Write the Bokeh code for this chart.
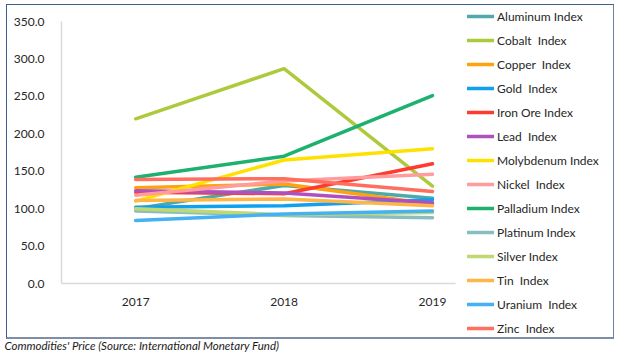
from bokeh.plotting import figure
from bokeh.models import (Range1d, FixedTicker, PrintfTickFormatter, Legend, LegendItem,
                          Title, InlineStyleSheet)
from bokeh.embed import file_html
from bokeh.resources import INLINE

years = [2017, 2018, 2019]
y_ticks = [0, 50, 100, 150, 200, 250, 300, 350]

names = ["Aluminum Index", "Cobalt  Index", "Copper  Index", "Gold  Index",
         "Iron Ore Index", "Lead  Index", "Molybdenum Index", "Nickel  Index",
         "Palladium Index", "Platinum Index", "Silver Index", "Tin  Index",
         "Uranium  Index", "Zinc  Index"]

aluminum = [100, 131, 114]
cobalt = [220, 287, 130]
copper = [128, 133, 106]
gold = [102, 104, 112]
iron_ore = [122, 120, 160]
lead = [124, 121, 108]
molybdenum = [110, 165, 180]
nickel = [118, 137, 146]
palladium = [142, 170, 251]
platinum = [97, 91, 88]
silver = [100, 92, 95]
tin = [111, 113, 104]
uranium = [84, 93, 97]
zinc = [139, 140, 123]

series = [aluminum, cobalt, copper, gold, iron_ore, lead, molybdenum, nickel,
          palladium, platinum, silver, tin, uranium, zinc]
colors = ["#4FA8AA", "#ADC93C", "#FFA20F", "#0FA0EE", "#FF3B2F", "#B050BE",
          "#FFE100", "#FF9C9C", "#1DB16E", "#88BEC0", "#BFD870", "#FFB547",
          "#45B1F4", "#FF6E5E"]

caption_text = "Commodities' Price (Source: International Monetary Fund)"

FONT = "Lato"

p = figure(frame_width=394, frame_height=262, output_backend="svg", toolbar_location=None,
           x_range=Range1d(2016.5, 2019.155), y_range=Range1d(0, 350),
           min_border_left=61, min_border_right=169, min_border_top=21,
           min_border_bottom=75)
p.stylesheets = [InlineStyleSheet(css="""
:host { position: relative; }
:host::after { content: ""; position: absolute; left: 6px; top: 4px;
  width: 608px; height: 335px; box-sizing: border-box;
  border: 1px solid #3F5E8E; border-bottom: 2px solid #7F8DA6;
  border-right: 1.5px solid #6F7F9C; pointer-events: none; }
""")]
p.outline_line_color = None
p.background_fill_color = "white"
p.border_fill_color = "white"
p.xgrid.visible = False
p.ygrid.visible = False

p.xaxis.ticker = FixedTicker(ticks=years)
p.yaxis.ticker = FixedTicker(ticks=y_ticks)
p.yaxis.formatter = PrintfTickFormatter(format="%.1f")
for ax in (p.xaxis, p.yaxis):
    ax.axis_line_color = "#D9D9D9"
    ax.axis_line_width = 1.5
    ax.major_tick_line_color = None
    ax.minor_tick_line_color = None
    ax.major_label_text_font = FONT
    ax.major_label_text_font_size = "12px"
    ax.major_label_text_color = "#262626"
p.yaxis.major_label_standoff = 11
p.xaxis.major_label_standoff = 8

items = []
for name, vals, col in zip(names, series, colors):
    r = p.line(years, vals, line_color=col, line_width=3.5, line_cap="round",
               line_join="round")
    items.append(LegendItem(label=name, renderers=[r]))

legend = Legend(items=items, location=(12, -55), orientation="vertical",
                padding=0, margin=0, spacing=4, glyph_height=20, label_height=20,
                glyph_width=27, label_standoff=3,
                border_line_color=None, background_fill_alpha=0,
                label_text_font=FONT, label_text_font_size="12px",
                label_text_color="#262626")
p.add_layout(legend, "right")

cap = Title(text=caption_text, align="left", offset=-57, standoff=56,
            text_font=FONT, text_font_size="11.5px", text_font_style="italic",
            text_color="#1A1A1A")
p.add_layout(cap, "below")

open("out.html", "w").write(file_html(p, INLINE))
